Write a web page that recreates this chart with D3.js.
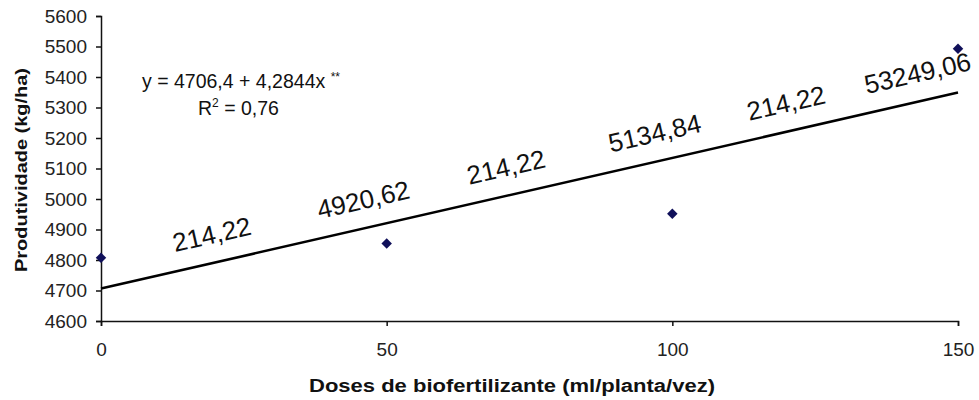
<!DOCTYPE html>
<html>

<head>
  <meta charset="utf8">
  <script src="https://d3js.org/d3.v7.min.js"></script>
  <style>
    body { margin: 0; background: #fff; }
    svg { font-family: "Liberation Sans", Arial, sans-serif; }
    .axis text { fill: #222; font-size: 19px; }
    .axis path, .axis line { stroke: #111; stroke-width: 1.5; }
  </style>
</head>

<body>
  <svg id="chart" width="979" height="400"></svg>
  <script>
    // observed points
    var doses = [0, 50, 100, 150];
    var yields = [4807, 4854, 4952, 5493];

    // fitted line y = a + b x
    var intercept = 4706.4;
    var slope = 4.2844;

    var xTicks = [0, 50, 100, 150];
    var yTicks = [4600, 4700, 4800, 4900, 5000, 5100, 5200, 5300, 5400, 5500, 5600];

    // labels written along the line
    var lineLabels = ['214,22', '4920,62', '214,22', '5134,84', '214,22', '53249,06'];
    var lineLabelDoses = [20.5, 47, 72, 98, 121, 144];

    var chart = d3.select('#chart');
    var margin = { top: 16, right: 21, bottom: 79, left: 101 };
    var width = 979 - margin.left - margin.right;
    var height = 400 - margin.top - margin.bottom;

    var x = d3.scaleLinear().domain([0, 150]).range([0, width]);
    var y = d3.scaleLinear().domain([4600, 5600]).range([height, 0]);

    var g = chart.append('g')
      .attr('transform', 'translate(' + margin.left + ',' + margin.top + ')');

    g.append('g')
      .attr('class', 'axis x-axis')
      .attr('transform', 'translate(0,' + height + ')')
      .call(d3.axisBottom(x).tickValues(xTicks).tickSizeOuter(0).tickSize(5).tickPadding(12))
      .selectAll('text').attr('dy', '0.95em');

    g.append('g')
      .attr('class', 'axis y-axis')
      .call(d3.axisLeft(y).tickValues(yTicks).tickFormat(d3.format('d'))
        .tickSizeOuter(0).tickSize(5).tickPadding(9));

    // regression line
    var fit = d3.line().x((d) => x(d)).y((d) => y(intercept + slope * d));
    g.append('path')
      .datum([0, 150])
      .attr('d', fit)
      .attr('fill', 'none')
      .attr('stroke', '#000')
      .attr('stroke-width', 2.5);

    // data points (diamonds)
    g.selectAll('.pt')
      .data(doses)
      .enter()
      .append('path')
      .attr('class', 'pt')
      .attr('transform', (d, i) => 'translate(' + x(d) + ',' + y(yields[i]) + ')')
      .attr('d', d3.symbol().type(d3.symbolDiamond2).size(70))
      .attr('fill', '#10105a');

    // rotated labels along the line
    var angle = Math.atan2(y(intercept + slope * 150) - y(intercept), x(150) - x(0)) * 180 / Math.PI;
    g.selectAll('.lbl')
      .data(lineLabels)
      .enter()
      .append('text')
      .attr('class', 'lbl')
      .attr('transform', (d, i) => {
        var dx = lineLabelDoses[i];
        return 'translate(' + x(dx) + ',' + y(intercept + slope * dx) + ') rotate(' + angle + ')';
      })
      .attr('y', -19)
      .attr('text-anchor', 'middle')
      .attr('font-size', 26)
      .attr('fill', '#111')
      .text((d) => d);

    // equation
    var eq = g.append('text')
      .attr('x', 142 - margin.left)
      .attr('y', 88 - margin.top)
      .attr('font-size', 19.5)
      .attr('fill', '#111');
    eq.append('tspan').text('y = 4706,4 + 4,2844x ');
    eq.append('tspan').attr('font-size', 12).attr('dy', -7).text('**');

    var r2 = g.append('text')
      .attr('x', 198 - margin.left)
      .attr('y', 115 - margin.top)
      .attr('font-size', 19.5)
      .attr('fill', '#111');
    r2.append('tspan').text('R');
    r2.append('tspan').attr('font-size', 12).attr('dy', -8).text('2');
    r2.append('tspan').attr('dy', 8).text(' = 0,76');

    // axis titles
    chart.append('text')
      .attr('transform', 'translate(27,170) rotate(-90)')
      .attr('text-anchor', 'middle')
      .attr('font-size', 17)
      .attr('font-weight', 'bold')
      .attr('fill', '#111')
      .attr('textLength', 204)
      .attr('lengthAdjust', 'spacingAndGlyphs')
      .text('Produtividade (kg/ha)');

    chart.append('text')
      .attr('x', 512)
      .attr('y', 392)
      .attr('text-anchor', 'middle')
      .attr('font-size', 18)
      .attr('font-weight', 'bold')
      .attr('fill', '#111')
      .attr('textLength', 406)
      .attr('lengthAdjust', 'spacingAndGlyphs')
      .text('Doses de biofertilizante (ml/planta/vez)');
  </script>
</body>

</html>
